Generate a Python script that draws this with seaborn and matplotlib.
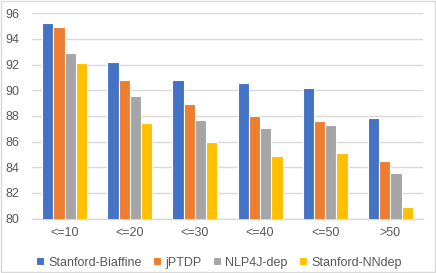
import matplotlib
matplotlib.use("Agg")
import matplotlib.pyplot as plt
import seaborn as sns
import pandas as pd
from matplotlib.patches import Rectangle

categories = ["<=10", "<=20", "<=30", "<=40", "<=50", ">50"]
series_names = ["Stanford-Biaffine", "jPTDP", "NLP4J-dep", "Stanford-NNdep"]
stanford_biaffine = [95.22, 92.2, 90.82, 90.54, 90.17, 87.81]
jptdp = [94.96, 90.82, 88.9, 87.99, 87.6, 84.48]
nlp4j_dep = [92.93, 89.52, 87.7, 87.08, 87.26, 83.57]
stanford_nndep = [92.1, 87.42, 85.96, 84.87, 85.13, 80.89]
colors = ["#4472C4", "#ED7D31", "#A5A5A5", "#FFC000"]

rows = []
for name, vals in zip(series_names, [stanford_biaffine, jptdp, nlp4j_dep, stanford_nndep]):
    for c, v in zip(categories, vals):
        rows.append({"category": c, "series": name, "value": v})
df = pd.DataFrame(rows)

sns.set_theme(style="white")
plt.rcParams["font.family"] = ["Liberation Sans", "DejaVu Sans"]

fig = plt.figure(figsize=(4.36, 2.73), dpi=100)
ax = fig.add_axes([32 / 436, 1 - 218.5 / 273, (423 - 32) / 436, (218.5 - 13.3) / 273])

sns.barplot(data=df, x="category", y="value", hue="series", order=categories,
            hue_order=series_names, palette=colors, width=0.69, ax=ax,
            edgecolor="white", linewidth=0.8, saturation=1, errorbar=None, zorder=3)

ax.set_ylim(80, 96)
ax.set_yticks(range(80, 97, 2))
ax.yaxis.grid(True, color="#D9D9D9", linewidth=1, zorder=0)
ax.set_axisbelow(True)
for s in ["top", "right", "left"]:
    ax.spines[s].set_visible(False)
ax.spines["bottom"].set_color("#D9D9D9")
ax.spines["bottom"].set_linewidth(1)
ax.set_xlabel("")
ax.set_ylabel("")
ax.tick_params(axis="both", length=0, labelsize=9, labelcolor="#595959", pad=6)
ax.tick_params(axis="y", pad=9)

handles, labels = ax.get_legend_handles_labels()
ax.legend(handles, labels, loc="center", bbox_to_anchor=(0.478, -0.215), ncol=4, frameon=False,
          fontsize=9, labelcolor="#595959", handlelength=0.6, handleheight=0.6,
          handletextpad=0.35, columnspacing=0.95)

fig.patches.append(Rectangle((0.002, 0.003), 0.995, 0.993, transform=fig.transFigure,
                             fill=False, edgecolor="#D9D9D9", linewidth=1))

fig.savefig("out.png", dpi=100)
